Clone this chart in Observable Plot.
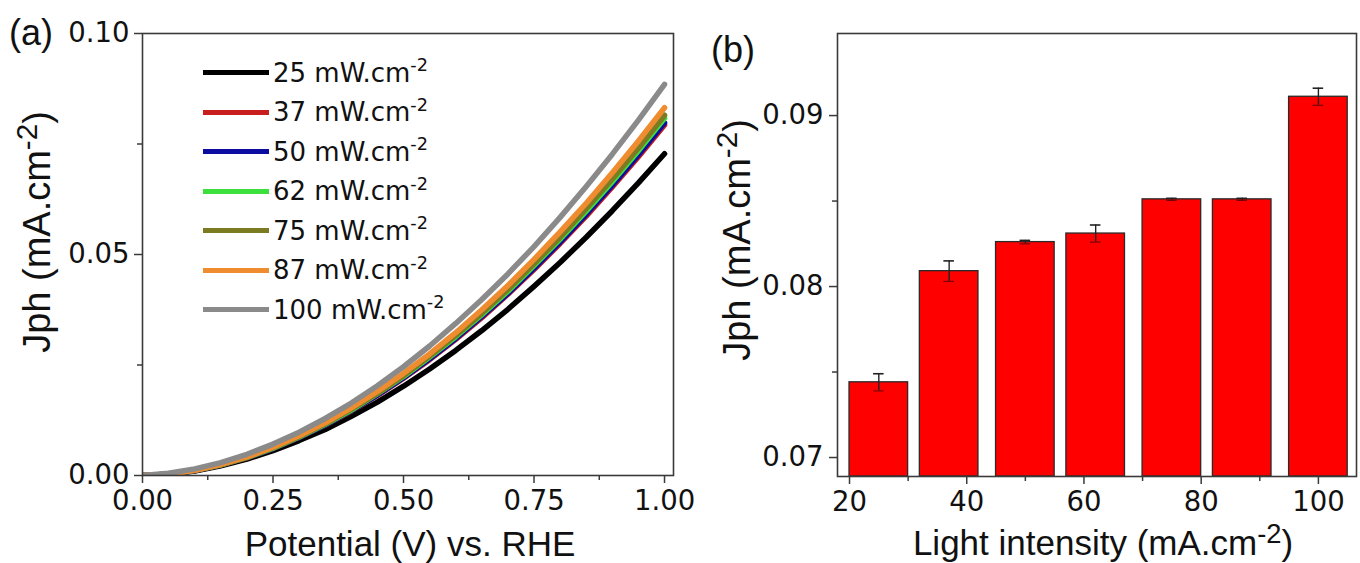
<!DOCTYPE html>
<html><head><meta charset="utf-8">
<script src="https://cdn.jsdelivr.net/npm/d3@7"></script>
<script src="https://cdn.jsdelivr.net/npm/@observablehq/plot@0.6"></script>
<style>
html,body{margin:0;padding:0;background:#fff;}
#wrap{position:relative;width:1360px;height:563px;overflow:hidden;background:#fff;}
#wrap svg{position:absolute;top:0;}
.abs{position:absolute;white-space:nowrap;color:#111;line-height:1;}
.title{font-family:"Liberation Sans",Arial,sans-serif;font-size:35px;}
.ytitle{font-family:"Liberation Sans",Arial,sans-serif;font-size:38px;}
.panel{font-family:"Liberation Sans",Arial,sans-serif;font-size:36px;}
.leg{font-family:"DejaVu Sans",sans-serif;font-size:26px;}
.sup{font-size:0.68em;position:relative;top:-0.6em;}
.supT{font-size:0.78em;position:relative;top:-0.45em;}
.sw{position:absolute;height:5px;}
</style></head><body><div id="wrap"></div>
<script>
// ---------- data ----------
const potential = [0,0.05,0.10,0.15,0.20,0.25,0.30,0.35,0.40,0.45,0.50,0.55,0.60,0.65,0.70,0.75,0.80,0.85,0.90,0.95,1.00];
const intensities = [25,37,50,62,75,87,100];
const seriesColors = ["#000000","#c81e1e","#0c0ca0","#3ce03c","#7b7b22","#f08c30","#8a8a8a"];
const j25  = [0,0.0003,0.0010,0.0022,0.0037,0.0056,0.0079,0.0104,0.0134,0.0166,0.0202,0.0241,0.0283,0.0328,0.0376,0.0428,0.0482,0.0539,0.0599,0.0662,0.0728];
const j37  = [0,0.0003,0.0011,0.0024,0.0040,0.0061,0.0086,0.0114,0.0146,0.0181,0.0220,0.0262,0.0308,0.0357,0.0410,0.0466,0.0525,0.0587,0.0653,0.0721,0.0793];
const j50  = [0,0.0003,0.0011,0.0024,0.0041,0.0061,0.0086,0.0114,0.0147,0.0182,0.0221,0.0264,0.0310,0.0360,0.0412,0.0469,0.0528,0.0591,0.0657,0.0726,0.0798];
const j62  = [0,0.0003,0.0012,0.0024,0.0041,0.0062,0.0087,0.0116,0.0148,0.0185,0.0224,0.0268,0.0314,0.0364,0.0417,0.0475,0.0535,0.0598,0.0665,0.0735,0.0808];
const j75  = [0,0.0003,0.0012,0.0024,0.0042,0.0063,0.0088,0.0117,0.0150,0.0186,0.0226,0.0270,0.0317,0.0367,0.0421,0.0479,0.0539,0.0604,0.0671,0.0741,0.0815];
const j87  = [0,0.0003,0.0012,0.0025,0.0042,0.0064,0.0090,0.0119,0.0153,0.0190,0.0231,0.0275,0.0323,0.0375,0.0430,0.0489,0.0551,0.0616,0.0685,0.0757,0.0832];
const j100 = [0,0.0005,0.0015,0.0029,0.0048,0.0071,0.0098,0.0129,0.0164,0.0203,0.0246,0.0293,0.0344,0.0398,0.0456,0.0518,0.0584,0.0654,0.0727,0.0804,0.0885];
const curves = [j25,j37,j50,j62,j75,j87,j100];

const barJph = [0.0744,0.0809,0.0826,0.0831,0.0851,0.0851,0.0911];
const barErr = [0.0005,0.0006,0.0001,0.0005,0.00006,0.00006,0.0005];

const xTicksA = [0,0.25,0.5,0.75,1.0], xMinorA = [0.125,0.375,0.625,0.875];
const yTicksA = [0,0.05,0.10], yMinorA = [0.025,0.075];
const xTicksB = [20,40,60,80,100], xMinorB = [30,50,70,90];
const yTicksB = [0.07,0.08,0.09], yMinorB = [0.075,0.085];
const xDomainA = [0,1.0172], yDomainA = [0,0.10];
const xDomainB = [17.95,106.5], yDomainB = [0.06889,0.0948];

// ---------- layout ----------
const wrap = document.getElementById("wrap");
const axisStroke = "#3a3a3a";
const baseStyle = {fontFamily:"'DejaVu Sans',sans-serif", fontSize:"27.5px", color:"#111", background:"transparent", overflow:"visible"};

const plotA = Plot.plot({
  width:690, height:563, marginLeft:142, marginRight:17, marginTop:33, marginBottom:88,
  style: baseStyle,
  x:{domain:xDomainA}, y:{domain:yDomainA},
  marks:[
    ...curves.map((c,i)=>Plot.line(potential,{x:d=>d, y:(d,k)=>c[k], stroke:seriesColors[i], strokeWidth:5.5, clip:true})),
    Plot.frame({stroke:axisStroke, strokeWidth:1.6}),
    Plot.axisX({ticks:xTicksA, tickFormat:d3.format(".2f"), tickSize:8, tickPadding:7, stroke:axisStroke, strokeWidth:1.5, label:null}),
    Plot.axisX({ticks:xMinorA, tickFormat:()=>"", tickSize:5, stroke:axisStroke, strokeWidth:1.5, label:null}),
    Plot.axisY({ticks:yTicksA, tickFormat:d3.format(".2f"), tickSize:8, tickPadding:5, stroke:axisStroke, strokeWidth:1.5, label:null}),
    Plot.axisY({ticks:yMinorA, tickFormat:()=>"", tickSize:5, stroke:axisStroke, strokeWidth:1.5, label:null})
  ]
});
plotA.style.left = "0px";
wrap.appendChild(plotA);

const plotB = Plot.plot({
  width:670, height:563, marginLeft:147, marginRight:4, marginTop:33, marginBottom:87,
  style: baseStyle,
  x:{domain:xDomainB}, y:{domain:yDomainB},
  marks:[
    Plot.rectY(intensities,{x1:d=>d-5, x2:d=>d+5, y1:yDomainB[0], y2:(d,i)=>barJph[i], fill:"#fe0000", stroke:"#2a2a2a", strokeWidth:1.3, clip:true}),
    Plot.ruleX(intensities,{x:d=>d, y1:(d,i)=>barJph[i]-barErr[i], y2:(d,i)=>barJph[i]+barErr[i], stroke:"#222", strokeWidth:1.4}),
    Plot.ruleY(intensities,{y:(d,i)=>barJph[i]+barErr[i], x1:d=>d-0.9, x2:d=>d+0.9, stroke:"#222", strokeWidth:1.6}),
    Plot.ruleY(intensities,{y:(d,i)=>barJph[i]-barErr[i], x1:d=>d-0.9, x2:d=>d+0.9, stroke:"#7a0000", strokeWidth:1.2}),
    Plot.frame({stroke:axisStroke, strokeWidth:1.6}),
    Plot.axisX({ticks:xTicksB, tickFormat:d=>String(d), tickSize:8, tickPadding:7, stroke:axisStroke, strokeWidth:1.5, label:null}),
    Plot.axisX({ticks:xMinorB, tickFormat:()=>"", tickSize:5, stroke:axisStroke, strokeWidth:1.5, label:null}),
    Plot.axisY({ticks:yTicksB, tickFormat:d3.format(".2f"), tickSize:8, tickPadding:6, stroke:axisStroke, strokeWidth:1.5, label:null}),
    Plot.axisY({ticks:yMinorB, tickFormat:()=>"", tickSize:5, stroke:axisStroke, strokeWidth:1.5, label:null})
  ]
});
plotB.style.left = "690px";
wrap.appendChild(plotB);

// ---------- text overlays ----------
function place(html, cx, cy, cls, rot){
  const d = document.createElement("div");
  d.className = "abs " + cls;
  d.innerHTML = html;
  d.style.left = cx + "px"; d.style.top = cy + "px";
  d.style.transform = "translate(-50%,-50%)" + (rot ? " rotate(-90deg)" : "");
  wrap.appendChild(d);
}
place("(a)", 31, 33, "panel");
place("(b)", 733, 50, "panel");
place("Potential (V) vs. RHE", 410, 543, "title");
place("Light intensity (mA.cm<span class='supT'>-2</span>)", 1103, 542, "title");
place("Jph (mA.cm<span class='supT'>-2</span>)", 37, 232, "ytitle", true);
place("Jph (mA.cm<span class='supT'>-2</span>)", 737, 240, "ytitle", true);

// legend
intensities.forEach((I,i)=>{
  const cy = 72.7 + i*39.5;
  const s = document.createElement("div");
  s.className = "sw";
  s.style.left = "203px"; s.style.width = "66px"; s.style.top = (cy-2.5)+"px";
  s.style.background = seriesColors[i];
  wrap.appendChild(s);
  const t = document.createElement("div");
  t.className = "abs leg";
  t.innerHTML = I + " mW.cm<span class='sup'>-2</span>";
  t.style.left = "273px"; t.style.top = (cy-13)+"px";
  wrap.appendChild(t);
});
</script></body></html>
